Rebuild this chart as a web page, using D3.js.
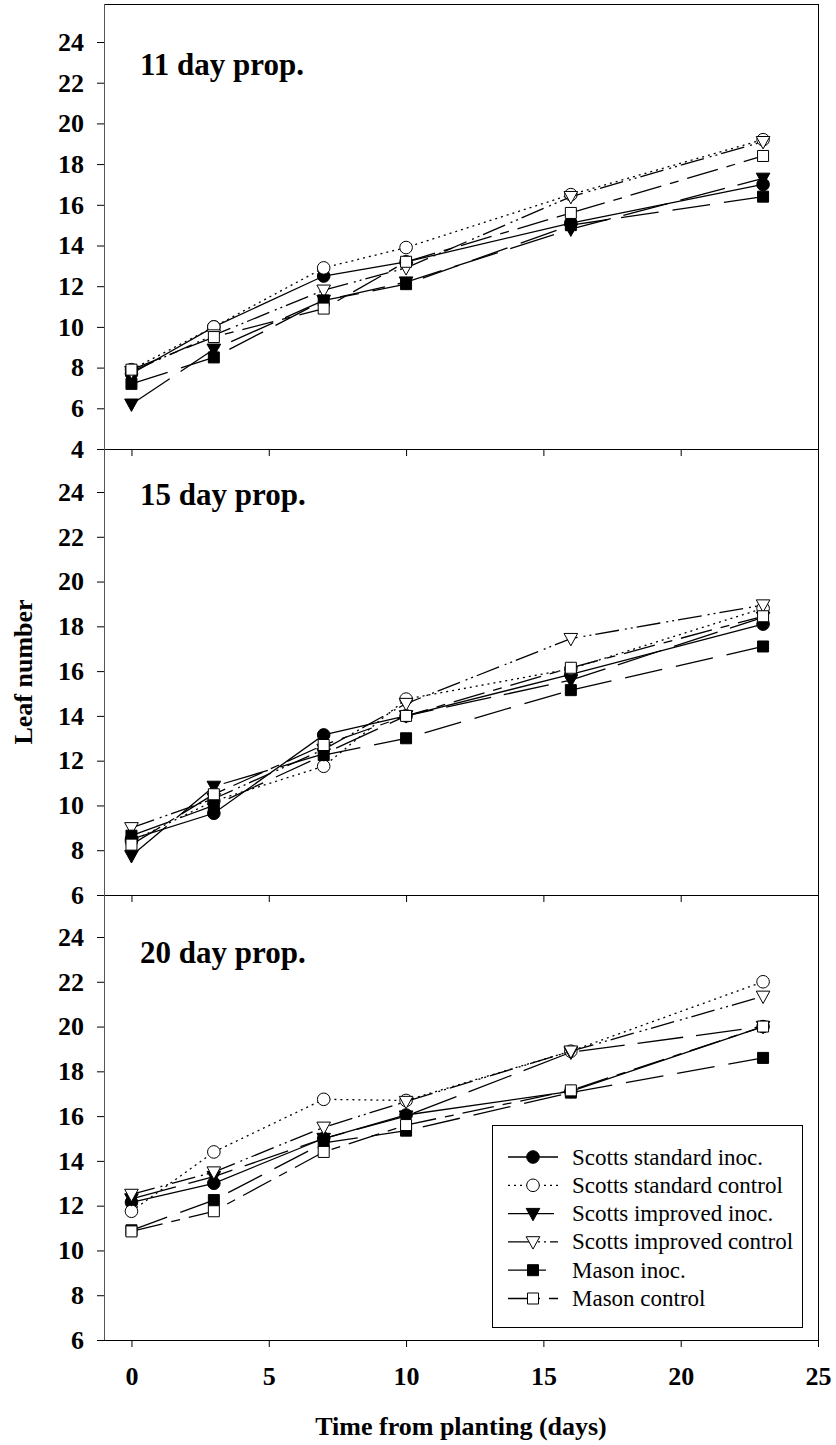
<!DOCTYPE html>
<html>
<head>
<meta charset="utf-8">
<script src="https://cdn.jsdelivr.net/npm/d3@7"></script>
<style>
    body { margin: 0; background: #fff; }
    text { font-family: "Times New Roman", "Liberation Serif", serif; }
</style>
</head>
<body>
<div id="chart"></div>
<script>
// ****************************************************************************
// ******************************** DATOS *************************************
// ****************************************************************************

const days = [0, 3, 7, 10, 16, 23];

const series_names = [
    "Scotts standard inoc.", "Scotts standard control",
    "Scotts improved inoc.", "Scotts improved control",
    "Mason inoc.", "Mason control"
];

const panel_titles = ["11 day prop.", "15 day prop.", "20 day prop."];

// 11 day prop.
const prop11_ssi = [7.7, 10.0, 12.5, 13.2, 15.1, 17.0];
const prop11_ssc = [7.9, 10.0, 12.9, 13.9, 16.5, 19.2];
const prop11_sii = [6.2, 8.9, 11.3, 12.2, 14.8, 17.3];
const prop11_sic = [7.8, 9.6, 11.8, 12.9, 16.4, 19.1];
const prop11_mi = [7.2, 8.5, 11.3, 12.1, 15.0, 16.4];
const prop11_mc = [7.9, 9.5, 10.9, 13.2, 15.6, 18.4];

// 15 day prop.
const prop15_ssi = [8.5, 9.65, 13.15, 14.0, 15.85, 18.1];
const prop15_ssc = [8.4, 10.2, 11.75, 14.75, 16.1, 18.8];
const prop15_sii = [7.75, 10.85, 12.3, 14.0, 15.6, 18.4];
const prop15_sic = [9.0, 10.3, 12.5, 14.55, 17.45, 18.95];
const prop15_mi = [8.65, 10.0, 12.25, 13.0, 15.15, 17.1];
const prop15_mc = [8.25, 10.5, 12.7, 14.0, 16.15, 18.45];

// 20 day prop.
const prop20_ssi = [12.15, 13.0, 15.0, 16.05, 17.1, 20.0];
const prop20_ssc = [11.75, 14.4, 16.75, 16.7, 18.9, 22.0];
const prop20_sii = [12.3, 13.3, 15.0, 16.0, 18.85, 20.0];
const prop20_sic = [12.5, 13.5, 15.5, 16.65, 18.9, 21.35];
const prop20_mi = [10.9, 12.25, 14.8, 15.35, 17.05, 18.6];
const prop20_mc = [10.85, 11.75, 14.4, 15.6, 17.15, 20.0];

const x_ticks = [0, 5, 10, 15, 20, 25];
const y_ticks_top = [4, 6, 8, 10, 12, 14, 16, 18, 20, 22, 24];
const y_ticks = [6, 8, 10, 12, 14, 16, 18, 20, 22, 24];

// ****************************************************************************
// ****************************** GRÁFICO *************************************
// ****************************************************************************

/**
 * Estilo de cada serie: marcador, relleno y patrón de línea.
 */
const styles = [
    {marker: "circle", filled: true, dash: null},
    {marker: "circle", filled: false, dash: "2,4"},
    {marker: "triangle", filled: true, dash: "46,13"},
    {marker: "triangle", filled: false, dash: "24,6,2,4,2,4"},
    {marker: "square", filled: true, dash: "38,14"},
    {marker: "square", filled: false, dash: "32,9,9,9"}
];

/**
 * Devuelve el path de un marcador centrado en (0,0).
 */
function marker_path(kind){
    if(kind == "circle"){
        const r = 6.3;
        return "M" + (-r) + ",0A" + r + "," + r + " 0 1,0 " + r + ",0A"
            + r + "," + r + " 0 1,0 " + (-r) + ",0Z";
    }
    if(kind == "triangle"){
        return "M-6.8,-5.2L6.8,-5.2L0,7.2Z";
    }
    return "M-5.5,-5.5L5.5,-5.5L5.5,5.5L-5.5,5.5Z";
}

function draw_marker(g, kind, filled, cx, cy){
    g.append("path")
        .attr("d", marker_path(kind))
        .attr("transform", "translate(" + cx + "," + cy + ")")
        .attr("fill", filled ? "#000" : "#fff")
        .attr("stroke", "#000")
        .attr("stroke-width", 1);
}

const width = 836, height = 1445;
const svg = d3.select("#chart").append("svg")
    .attr("width", width)
    .attr("height", height);

const x = d3.scaleLinear().domain([-1, 25]).range([104, 818]);

const panels = [
    {title: panel_titles[0], top: 4, y0: 4, ys: [449, 42], ticks: y_ticks_top,
        title_dy: 71,
        data: [prop11_ssi, prop11_ssc, prop11_sii, prop11_sic, prop11_mi, prop11_mc]},
    {title: panel_titles[1], top: 449, y0: 6, ys: [895, 492], ticks: y_ticks,
        title_dy: 56,
        data: [prop15_ssi, prop15_ssc, prop15_sii, prop15_sic, prop15_mi, prop15_mc]},
    {title: panel_titles[2], top: 895, y0: 6, ys: [1340, 937], ticks: y_ticks,
        title_dy: 68,
        data: [prop20_ssi, prop20_ssc, prop20_sii, prop20_sic, prop20_mi, prop20_mc]}
];

panels.forEach(function(p, pi){
    const y = d3.scaleLinear().domain([p.y0, 24]).range(p.ys);
    const bottom = p.ys[0];
    const g = svg.append("g");

    // Marco: línea superior y derecha
    g.append("line").attr("x1", 104).attr("x2", 818.5)
        .attr("y1", p.top + 0.5).attr("y2", p.top + 0.5)
        .attr("stroke", "#000");
    g.append("line").attr("x1", 818.5).attr("x2", 818.5)
        .attr("y1", p.top).attr("y2", bottom)
        .attr("stroke", "#000");

    // Eje Y
    const ay = g.append("g")
        .attr("transform", "translate(104,0)")
        .call(d3.axisLeft(y).tickValues(p.ticks).tickSize(7).tickPadding(13)
            .tickSizeOuter(0));
    ay.select(".domain").remove();
    ay.append("line").attr("x1", 0.5).attr("x2", 0.5)
        .attr("y1", p.top).attr("y2", bottom)
        .attr("stroke", "#555");
    ay.selectAll("text")
        .style("font-size", "26px").style("font-weight", "bold")
        .attr("fill", "#000");

    // Eje X (etiquetas sólo en el panel de abajo)
    const ax = g.append("g")
        .attr("transform", "translate(0," + bottom + ")")
        .call(d3.axisBottom(x).tickValues(x_ticks).tickSize(7)
            .tickPadding(20).tickSizeOuter(0)
            .tickFormat(pi == 2 ? d3.format("d") : ""));
    ax.select(".domain").attr("d", "M97,0.5H818.5");
    ax.selectAll("text")
        .style("font-size", "26px").style("font-weight", "bold")
        .attr("fill", "#000");

    // Título del panel
    g.append("text")
        .attr("x", 140).attr("y", p.top + p.title_dy)
        .style("font-size", "31px").style("font-weight", "bold")
        .text(p.title);

    // Series: línea y marcadores
    p.data.forEach(function(vals, si){
        const st = styles[si];
        const pts = days.map((d, i) => [x(d), y(vals[i])]);
        g.append("path")
            .attr("d", d3.line()(pts))
            .attr("fill", "none")
            .attr("stroke", "#000")
            .attr("stroke-width", 1.3)
            .attr("stroke-dasharray", st.dash);
        pts.forEach(pt => draw_marker(g, st.marker, st.filled, pt[0], pt[1]));
    });
});

// Títulos de los ejes
svg.append("text")
    .attr("x", 461).attr("y", 1435)
    .attr("text-anchor", "middle")
    .style("font-size", "26px").style("font-weight", "bold")
    .text("Time from planting (days)");

svg.append("text")
    .attr("transform", "translate(32,672) rotate(-90)")
    .attr("text-anchor", "middle")
    .style("font-size", "26px").style("font-weight", "bold")
    .text("Leaf number");

// Leyenda
const legend = svg.append("g");
legend.append("rect")
    .attr("x", 492.5).attr("y", 1125.5)
    .attr("width", 310).attr("height", 202)
    .attr("fill", "#fff").attr("stroke", "#000");

series_names.forEach(function(name, i){
    const st = styles[i];
    const cy = 1157 + i * 28.3;
    legend.append("line")
        .attr("x1", 508).attr("x2", 558)
        .attr("y1", cy).attr("y2", cy)
        .attr("stroke", "#000").attr("stroke-width", 1.3)
        .attr("stroke-dasharray", st.dash);
    draw_marker(legend, st.marker, st.filled, 533, cy);
    legend.append("text")
        .attr("x", 572).attr("y", cy).attr("dy", "0.33em")
        .style("font-size", "23px")
        .text(name);
});
</script>
</body>
</html>
